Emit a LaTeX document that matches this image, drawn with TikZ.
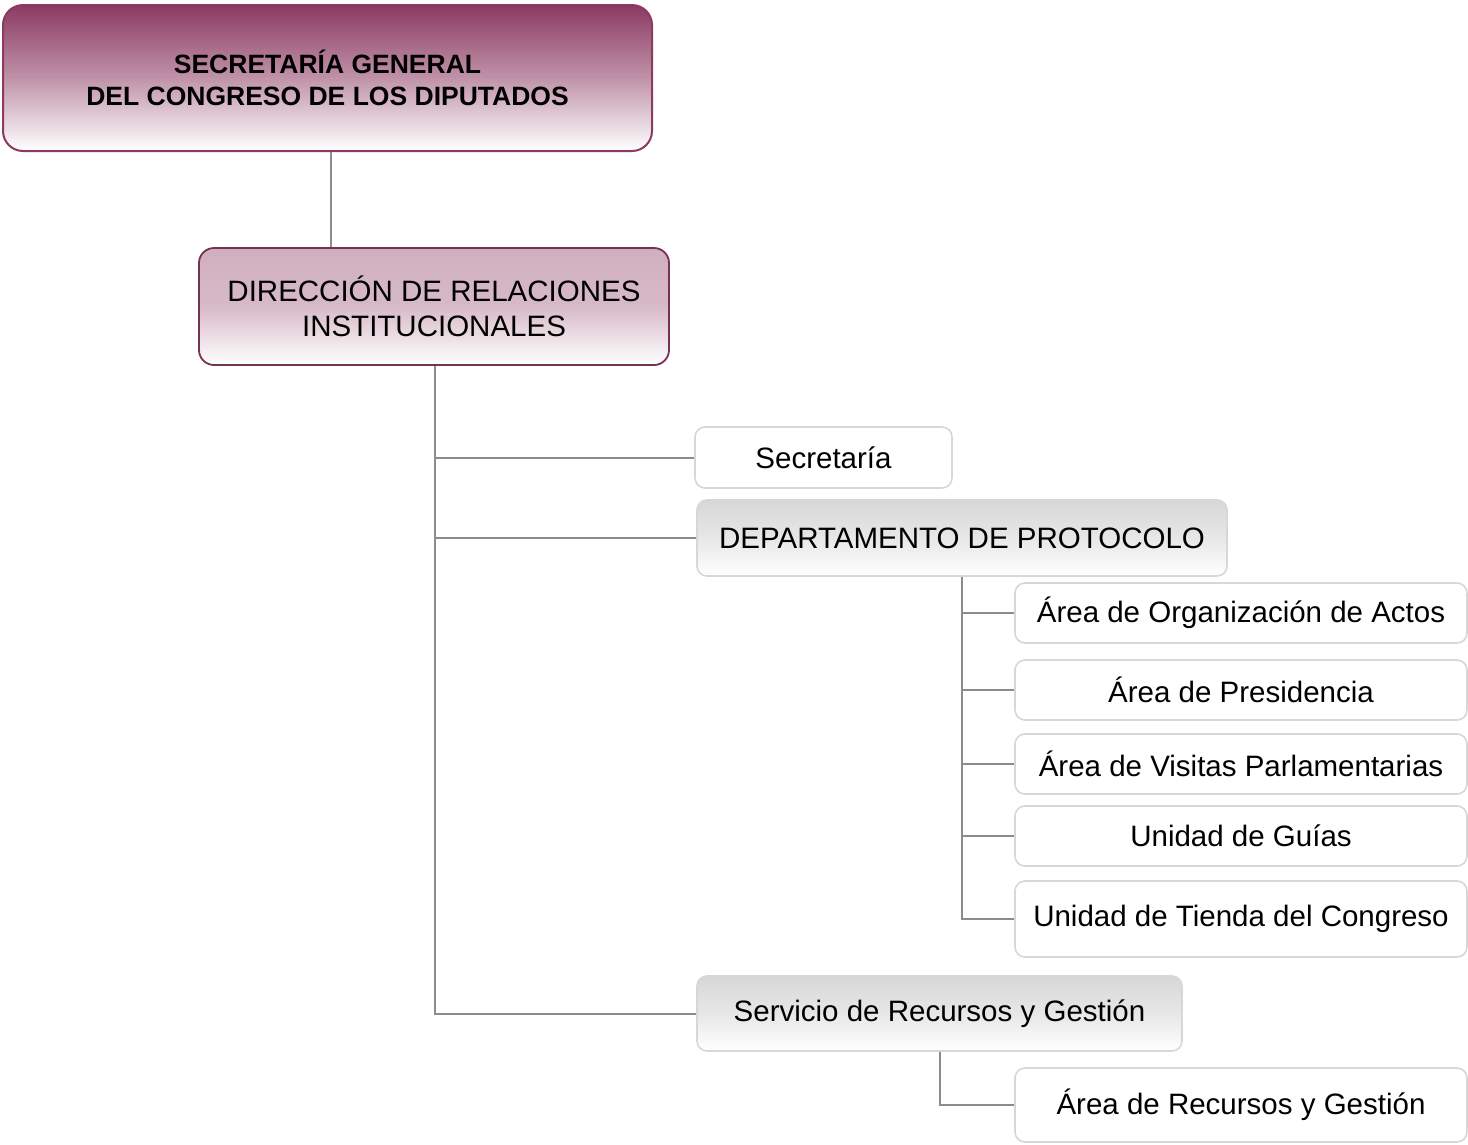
\documentclass[tikz,border=0pt]{standalone}
\usepackage{fontspec}
\setmainfont{Liberation Sans}
\definecolor{maroon}{RGB}{140,58,98}
\definecolor{pinkish}{RGB}{208,174,189}
\definecolor{boxgray}{RGB}{215,215,215}
\definecolor{conngray}{RGB}{140,140,140}
\tikzset{
  base/.style={rectangle, inner sep=0pt, align=center, font=\fontsize{29.5}{35}\selectfont},
  topbox/.style={base, rounded corners=20pt, draw=maroon, line width=2pt, top color=maroon, bottom color=white, middle color=maroon!55!white, font=\fontsize{26.5}{32}\selectfont\bfseries},
  dirbox/.style={base, rounded corners=15pt, draw=maroon!85!black, line width=1.8pt, top color=pinkish, bottom color=white, middle color=pinkish!85!white},
  whitebox/.style={base, rounded corners=10pt, draw=boxgray, line width=1.6pt, fill=white},
  graybox/.style={base, rounded corners=10pt, draw=boxgray, line width=1.6pt, top color=boxgray, bottom color=white, middle color=boxgray!60!white},
  conn/.style={draw=conngray, line width=2pt}
}
\begin{document}
\begin{tikzpicture}[x=1pt,y=-1pt]
\useasboundingbox (0,0) rectangle (1468,1144);
\node[topbox, minimum width=649pt, minimum height=146pt] (top) at (327.5,78) {SECRETARÍA GENERAL\\DEL CONGRESO DE LOS DIPUTADOS};
\node[dirbox, minimum width=470pt, minimum height=117pt] (dir) at (434,306.5) {DIRECCIÓN DE RELACIONES\\INSTITUCIONALES};
\node[whitebox, minimum width=257pt, minimum height=61pt] (sec) at (823.5,457.5) {Secretaría};
\node[graybox, minimum width=530pt, minimum height=76pt] (dept) at (962,538) {DEPARTAMENTO DE PROTOCOLO};
\node[whitebox, minimum width=452pt, minimum height=60pt] (a1) at (1241,613) {Área de Organización de Actos};
\node[whitebox, minimum width=452pt, minimum height=60pt] (a2) at (1241,690) {Área de Presidencia};
\node[whitebox, minimum width=452pt, minimum height=60pt] (a3) at (1241,764) {Área de Visitas Parlamentarias};
\node[whitebox, minimum width=452pt, minimum height=60pt] (a4) at (1241,836) {Unidad de Guías};
\node[whitebox, minimum width=452pt, minimum height=76pt] (a5) at (1241,919) {Unidad de Tienda del Congreso};
\node[graybox, minimum width=485pt, minimum height=75pt] (serv) at (939.5,1013.5) {Servicio de Recursos y Gestión};
\node[whitebox, minimum width=452pt, minimum height=74pt] (ar) at (1241,1105) {Área de Recursos y Gestión};
\coordinate (t1) at (331,0);
\coordinate (sp) at (435,0);
\draw[conn] (top.south -| t1) -- (dir.north -| t1);
\draw[conn] (dir.south -| sp) |- (serv.west);
\draw[conn] (sec.west) -- (sec.west -| sp);
\draw[conn] (dept.west) -- (dept.west -| sp);
\draw[conn] (dept.south) |- (a5.west);
\draw[conn] (a1.west) -- (a1.west -| dept.south);
\draw[conn] (a2.west) -- (a2.west -| dept.south);
\draw[conn] (a3.west) -- (a3.west -| dept.south);
\draw[conn] (a4.west) -- (a4.west -| dept.south);
\draw[conn] (serv.south) |- (ar.west);
\end{tikzpicture}
\end{document}
